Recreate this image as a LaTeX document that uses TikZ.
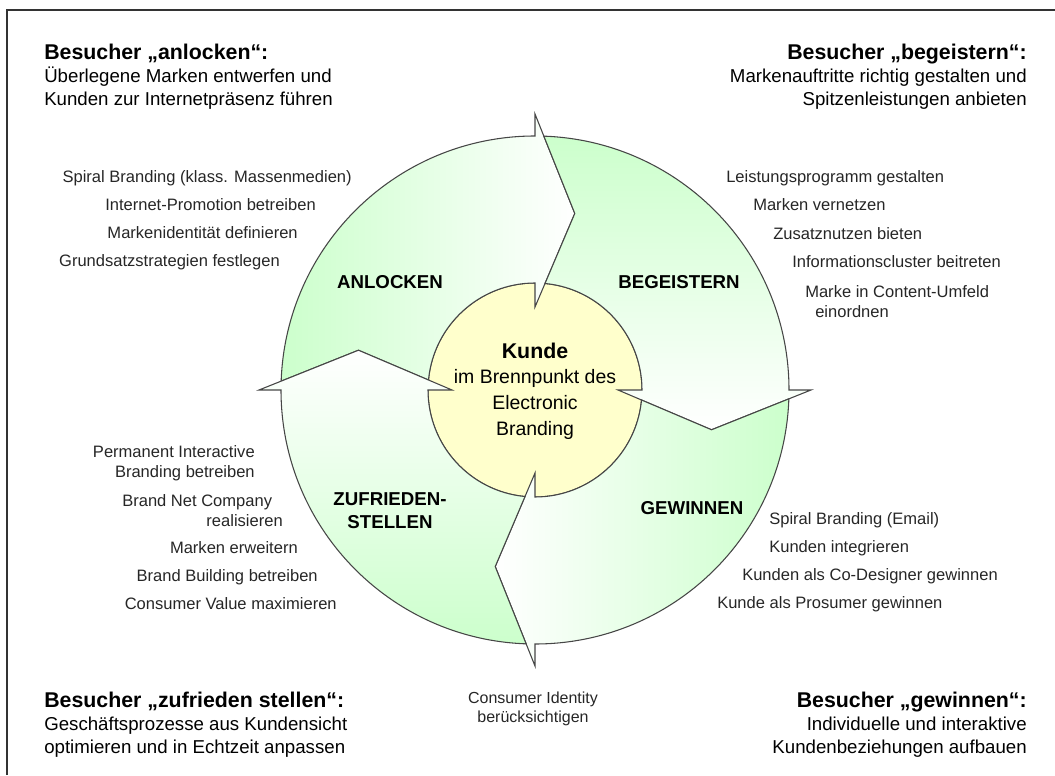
\documentclass[tikz,border=0pt]{standalone}
\usepackage{fontspec}
\setmainfont{Liberation Sans}
\definecolor{ringgreen}{RGB}{204,255,204}
\definecolor{coreyellow}{RGB}{255,255,204}
\definecolor{rim}{RGB}{70,70,70}

\begin{document}
\begin{tikzpicture}[x=0.75pt, y=0.75pt,
    ringpart/.style={draw=rim, line width=0.8pt, line join=miter},
    phase/.style={font=\fontsize{14}{17}\selectfont\bfseries, inner sep=0pt, align=center},
    item/.style={font=\fontsize{12.4}{15}\selectfont, inner sep=0pt, text=black!85},
    visitor/.style={font=\fontsize{14}{17}\selectfont, inner sep=0pt}
  ]
  \useasboundingbox (0,0) rectangle (1055,775);
  % frame
  \draw[line width=1.5pt, black!80] (7,0) -- (7,765) -- (1055,765);

  % customer in the middle
  \coordinate (mid) at (535,385);
  \filldraw[fill=coreyellow, draw=rim, line width=0.8pt] (mid) circle[radius=107];

  % ring of four arrows, each given by the angle of its tail
  \foreach \tail in {180,90,0,270}{
    \pgfmathsetmacro{\turn}{\tail-90}
    \draw[ringpart, shift={(mid)}, top color=ringgreen, bottom color=white, shading angle=\turn]
      (\tail-2:254) arc[start angle=\tail-2, end angle=\tail-90, radius=254]
      -- (\tail-90:276) -- (\tail-102.7:181) -- (\tail-90:83) -- (\tail-90:107)
      arc[start angle=\tail-90, end angle=\tail-5.37, radius=107]
      -- (\tail-12.7:181) -- cycle;
  }

  \node[align=center, inner sep=0pt, font=\fontsize{14.6}{19.3}\selectfont] (kunde) at (535,384)
    {{\bfseries\fontsize{16}{19.3}\selectfont Kunde}\\im Brennpunkt des\\Electronic\\Branding};

  % phases
  \node[phase] (anlocken) at (390,493) {ANLOCKEN};
  \node[phase] (begeistern) at (679,493) {BEGEISTERN};
  \node[phase] (gewinnen) at (692,267) {GEWINNEN};
  \node[phase] (zufrieden) at (390,264) {ZUFRIEDEN-\\STELLEN};

  % measures around the ring
  \node[item, anchor=mid east] (a1) at (352,596) {Spiral Branding (klass. Massenmedien)};
  \node[item, anchor=mid east] (a2) at (316,568) {Internet-Promotion betreiben};
  \node[item, anchor=mid east] (a3) at (298,540) {Markenidentität definieren};
  \node[item, anchor=mid east] (a4) at (280,512) {Grundsatzstrategien festlegen};

  \node[item, anchor=mid west] (b1) at (726,596) {Leistungsprogramm gestalten};
  \node[item, anchor=mid west] (b2) at (753,568) {Marken vernetzen};
  \node[item, anchor=mid west] (b3) at (773,539) {Zusatznutzen bieten};
  \node[item, anchor=mid west] (b4) at (792,511) {Informationscluster beitreten};
  \node[item, anchor=north west, align=left] (b5) at (805,490)
    {Marke in Content-Umfeld\\\hspace*{7.5pt}einordnen};

  \node[item, anchor=mid west] (g1) at (769,254) {Spiral Branding (Email)};
  \node[item, anchor=mid west] (g2) at (769,226) {Kunden integrieren};
  \node[item, anchor=mid west] (g3) at (742,198) {Kunden als Co-Designer gewinnen};
  \node[item, anchor=mid west] (g4) at (717,170) {Kunde als Prosumer gewinnen};

  \node[item, anchor=north east, align=right] (z1) at (255,330)
    {Permanent Interactive\\Branding betreiben};
  \node[item, anchor=north east, align=right] (z2) at (283,281)
    {Brand Net Company\hspace*{8pt}\\realisieren};
  \node[item, anchor=mid east] (z3) at (298,225) {Marken erweitern};
  \node[item, anchor=mid east] (z4) at (318,197) {Brand Building betreiben};
  \node[item, anchor=mid east] (z5) at (337,169) {Consumer Value maximieren};

  \node[item, anchor=north, align=center, font=\fontsize{12}{14.3}\selectfont] (identity) at (533,83)
    {Consumer Identity\\berücksichtigen};

  % visitor goals in the corners
  \node[visitor, anchor=north west, align=left] (lure) at (44,731)
    {{\bfseries\fontsize{16}{17.5}\selectfont Besucher „anlocken“:}\\Überlegene Marken entwerfen und\\Kunden zur Internetpräsenz führen};
  \node[visitor, anchor=north east, align=right] (inspire) at (1027,731)
    {{\bfseries\fontsize{16}{17.5}\selectfont Besucher „begeistern“:}\\Markenauftritte richtig gestalten und\\Spitzenleistungen anbieten};
  \node[visitor, anchor=north west, align=left] (satisfy) at (44,83)
    {{\bfseries\fontsize{16}{17.5}\selectfont Besucher „zufrieden stellen“:}\\Geschäftsprozesse aus Kundensicht\\optimieren und in Echtzeit anpassen};
  \node[visitor, anchor=north east, align=right] (win) at (1027,83)
    {{\bfseries\fontsize{16}{17.5}\selectfont Besucher „gewinnen“:}\\Individuelle und interaktive\\Kundenbeziehungen aufbauen};
\end{tikzpicture}
\end{document}
